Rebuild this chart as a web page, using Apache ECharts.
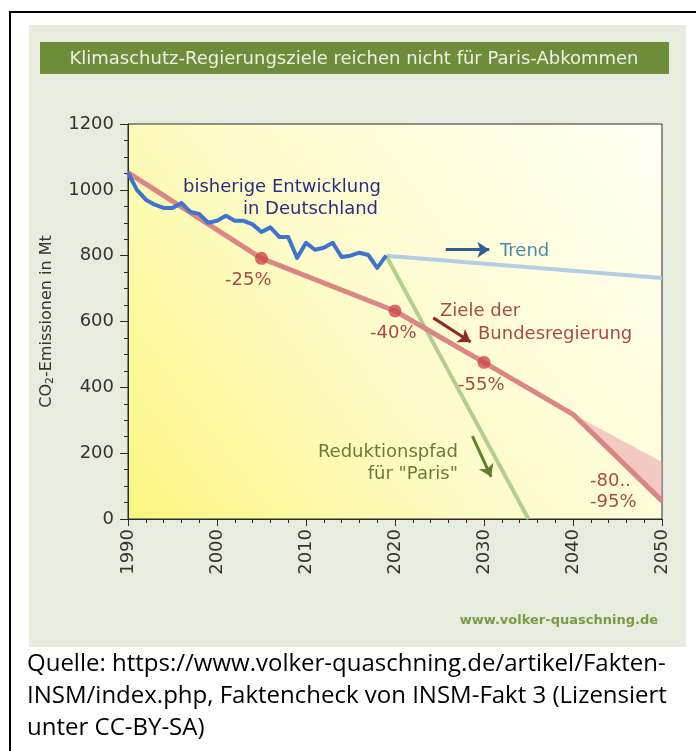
<!DOCTYPE html>
<html>
<head>
<meta charset="utf-8">
<script src="https://cdn.jsdelivr.net/npm/echarts@6/dist/echarts.min.js"></script>
<style>
  html, body { margin: 0; padding: 0; background: #fff; }
  #chart { width: 696px; height: 751px; }
</style>
</head>
<body>
<div id="chart"></div>
<script>
// historic emissions, Mt CO2
const histYears = [1990, 1991, 1992, 1993, 1994, 1995, 1996, 1997, 1998, 1999,
  2000, 2001, 2002, 2003, 2004, 2005, 2006, 2007, 2008, 2009,
  2010, 2011, 2012, 2013, 2014, 2015, 2016, 2017, 2018, 2019]
const histValues = [1052, 1000, 970, 955, 945, 945, 960, 933, 927, 900,
  906, 921, 906, 906, 895, 872, 886, 857, 857, 793,
  839, 818, 824, 839, 796, 800, 809, 802, 763, 800]

// government targets
const targetYears = [1990, 2005, 2020, 2030, 2040, 2050]
const targetValues = [1052, 792, 632, 476, 318, 55]
const targetDotYears = [2005, 2020, 2030]
const targetDotValues = [792, 632, 476]

// -80..-95% band
const bandYears = [2040, 2050]
const bandLow = [318, 55]
const bandHigh = [318, 173]

const trendYears = [2019, 2050]
const trendValues = [800, 732]

const parisYears = [2019, 2035]
const parisValues = [800, 0]

const xTicks = [1990, 2000, 2010, 2020, 2030, 2040, 2050]
const yTicks = [0, 200, 400, 600, 800, 1000, 1200]

const zip = (a, b) => a.map((v, i) => [v, b[i]])

const FONT = '"DejaVu Sans", Verdana, sans-serif'
const NOTE_FONT = '"Open Sans", Lato, sans-serif'
const RED_TXT = '#a64a4a'

const chart = echarts.init(document.getElementById('chart'))

const txt = (text, x, y, color, align, size) => ({
  type: 'text',
  x, y, z: 100,
  style: {
    text,
    fill: color,
    font: (size || 18) + 'px ' + FONT,
    align: align || 'left',
    verticalAlign: 'middle'
  }
})

const note = (text, y) => ({
  type: 'text', x: 27, y, z: 100,
  style: { text, fill: '#000', font: '24px ' + NOTE_FONT, verticalAlign: 'middle' }
})

const arrow = (from, to, color) => ({
  type: 'lines',
  coordinateSystem: 'cartesian2d',
  z: 20,
  symbol: ['none', 'arrow'],
  symbolSize: 12,
  lineStyle: { color, width: 3, opacity: 1 },
  silent: true,
  data: [{ coords: [from, to] }]
})

chart.setOption({
  animation: false,
  backgroundColor: '#fff',
  grid: {
    left: 128, right: 34, top: 124, bottom: 232,
    show: true,
    borderColor: '#2a2a2a',
    borderWidth: 1,
    backgroundColor: new echarts.graphic.LinearGradient(0, 1, 1, 0, [
      { offset: 0, color: '#fbf680' },
      { offset: 0.45, color: '#fefcca' },
      { offset: 1, color: '#fffff4' }
    ])
  },
  xAxis: {
    type: 'value',
    min: xTicks[0],
    max: xTicks[xTicks.length - 1],
    interval: 10,
    axisLine: { lineStyle: { color: '#2a2a2a' } },
    axisTick: { show: true, length: 7, lineStyle: { color: '#2a2a2a' } },
    minorTick: { show: true, splitNumber: 5, length: 4, lineStyle: { color: '#2a2a2a' } },
    splitLine: { show: false },
    axisLabel: {
      rotate: 90,
      margin: 10,
      color: '#333',
      fontSize: 18,
      fontFamily: FONT,
      formatter: v => String(v)
    }
  },
  yAxis: {
    type: 'value',
    min: yTicks[0],
    max: yTicks[yTicks.length - 1],
    interval: 200,
    name: 'CO{sub|2}-Emissionen in Mt',
    nameLocation: 'middle',
    nameGap: 72,
    nameRotate: 90,
    nameTextStyle: {
      color: '#333',
      fontSize: 16,
      fontFamily: FONT,
      rich: { sub: { fontSize: 11, fontFamily: FONT, color: '#333', verticalAlign: 'bottom', padding: [8, 0, 0, 0] } }
    },
    axisLine: { show: true, lineStyle: { color: '#2a2a2a' } },
    axisTick: { show: true, length: 8, lineStyle: { color: '#2a2a2a' } },
    minorTick: { show: true, splitNumber: 4, length: 4, lineStyle: { color: '#2a2a2a' } },
    splitLine: { show: false },
    axisLabel: { color: '#333', fontSize: 18, fontFamily: FONT, margin: 14, formatter: v => String(v) }
  },
  graphic: [
    { type: 'rect', z: -10, shape: { x: 10, y: 12, width: 700, height: 760 },
      style: { fill: '#fff', stroke: '#000', lineWidth: 2 } },
    { type: 'rect', z: -9, shape: { x: 29, y: 25, width: 657, height: 622 },
      style: { fill: '#e8ecde' } },
    { type: 'rect', z: -8, shape: { x: 40, y: 42, width: 629, height: 32 },
      style: { fill: '#6f8c3b' } },
    txt('Klimaschutz-Regierungsziele reichen nicht für Paris-Abkommen', 354, 59, '#eef2e2', 'center', 18),
    txt('bisherige Entwicklung', 183, 187, '#2b2d84'),
    txt('in Deutschland', 378, 209, '#2b2d84', 'right'),
    txt('-25%', 225, 280, RED_TXT),
    txt('-40%', 370, 333, RED_TXT),
    txt('-55%', 458, 385, RED_TXT),
    txt('Ziele der', 440, 311, RED_TXT),
    txt('Bundesregierung', 478, 334, RED_TXT),
    txt('Trend', 500, 251, '#4b8ca6'),
    txt('Reduktionspfad', 458, 452, '#6b7a3c', 'right'),
    txt('für "Paris"', 458, 474, '#6b7a3c', 'right'),
    txt('-80..', 590, 481, RED_TXT),
    txt('-95%', 590, 502, RED_TXT),
    {
      type: 'text', x: 658, y: 621, z: 100,
      style: { text: 'www.volker-quaschning.de', fill: '#7b9a45', font: 'bold 13px ' + FONT, align: 'right', verticalAlign: 'middle' }
    },
    note('Quelle: https://www.volker-quaschning.de/artikel/Fakten-', 664),
    note('INSM/index.php, Faktencheck von INSM-Fakt 3 (Lizensiert', 696),
    note('unter CC-BY-SA)', 728)
  ],
  series: [
    {
      // shaded -80..-95% corridor
      type: 'custom',
      z: 2,
      silent: true,
      data: bandYears.map((y, i) => [y, bandLow[i], bandHigh[i]]),
      renderItem: (params, api) => {
        if (params.dataIndex !== 0) return
        const pts = []
        bandYears.forEach((y, i) => pts.push(api.coord([y, bandHigh[i]])))
        for (let i = bandYears.length - 1; i >= 0; i--) pts.push(api.coord([bandYears[i], bandLow[i]]))
        return { type: 'polygon', shape: { points: pts }, style: { fill: 'rgba(232,160,175,0.55)' } }
      }
    },
    {
      type: 'line', z: 3, silent: true, symbol: 'none',
      data: zip(trendYears, trendValues),
      lineStyle: { color: '#b4cde6', width: 4 }
    },
    {
      type: 'line', z: 4, silent: true, symbol: 'none',
      data: zip(parisYears, parisValues),
      lineStyle: { color: '#b2cf8e', width: 4 }
    },
    {
      type: 'line', z: 5, silent: true, symbol: 'none',
      data: zip(targetYears, targetValues),
      lineStyle: { color: '#dc8585', width: 5 }
    },
    {
      type: 'scatter', z: 6, silent: true,
      symbolSize: 13,
      data: zip(targetDotYears, targetDotValues),
      itemStyle: { color: '#cc4848' }
    },
    {
      type: 'line', z: 7, silent: true, symbol: 'none',
      data: zip(histYears, histValues),
      lineStyle: { color: '#3c74cf', width: 4, join: 'round' }
    },
    arrow([2025.7, 818], [2030.6, 818], '#2f5e95'),
    arrow([2024.3, 611], [2028.5, 538], '#8e2a2a'),
    arrow([2028.7, 252], [2030.8, 128], '#5f7f2c')
  ]
})
</script>
</body>
</html>
